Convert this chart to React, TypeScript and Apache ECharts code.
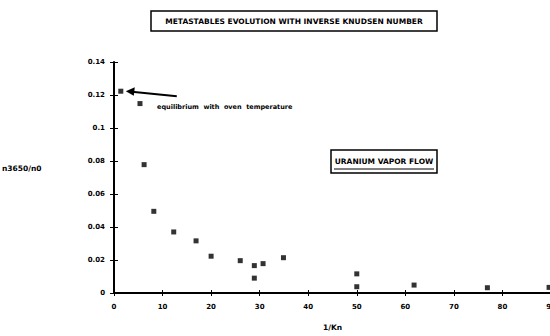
import React, { useEffect, useRef } from "react";
import * as echarts from "echarts";

const invKn = [1.4, 5.35, 6.2, 8.2, 12.3, 16.9, 20.0, 26.0, 28.9, 28.9, 30.7, 34.9, 50, 50, 61.8, 76.9, 89.6];
const ratio = [0.1223, 0.1148, 0.0778, 0.0495, 0.037, 0.0316, 0.0223, 0.0196, 0.0166, 0.009, 0.0178, 0.0214, 0.0116, 0.0038, 0.0048, 0.0032, 0.0034];
const titleText = "METASTABLES EVOLUTION WITH INVERSE KNUDSEN NUMBER";
const boxText = "URANIUM VAPOR FLOW";
const noteText = "equilibrium  with  oven  temperature";
const yName = "n3650/n0";
const xName = "1/Kn";

const FONT = "DejaVu Sans";

export default function App() {
  const ref = useRef<HTMLDivElement>(null);
  useEffect(() => {
    const chart = echarts.init(ref.current!, null, { renderer: "svg" });
    const data = invKn.map((x, i) => [x, ratio[i]]);
    const labelStyle = { fontFamily: FONT, fontWeight: "bold" as const, fontSize: 7, color: "#000" };
    chart.setOption({
      animation: false,
      backgroundColor: "#fff",
      grid: { left: 114, width: 437, top: 62, height: 233, containLabel: false },
      xAxis: [
        {
          type: "value", min: 0, max: 90, interval: 10,
          axisLine: { show: true, lineStyle: { color: "#000", width: 2 } },
          axisTick: { show: true, length: 3, lineStyle: { color: "#000", width: 1 } },
          splitLine: { show: false },
          axisLabel: { ...labelStyle, margin: 10 },
          name: xName, nameLocation: "middle", nameGap: 30,
          nameTextStyle: { ...labelStyle, fontSize: 7.5 },
        },
        {
          type: "value", min: 0, max: 90, interval: 10, position: "bottom",
          axisLine: { show: false },
          axisTick: { show: true, inside: true, length: 3, lineStyle: { color: "#000", width: 1 } },
          axisLabel: { show: false }, splitLine: { show: false },
        },
      ],
      yAxis: [
        {
          type: "value", min: 0, max: 0.14, interval: 0.02,
          axisLine: { show: true, lineStyle: { color: "#000", width: 2 } },
          axisTick: { show: true, length: 4, lineStyle: { color: "#000", width: 1 } },
          splitLine: { show: false },
          axisLabel: {
            ...labelStyle, margin: 9,
            formatter: (v: number) => (v === 0 ? "0" : String(+v.toFixed(2))),
          },
        },
        {
          type: "value", min: 0, max: 0.14, interval: 0.02, position: "left",
          axisLine: { show: false },
          axisTick: { show: true, inside: true, length: 4, lineStyle: { color: "#000", width: 1 } },
          axisLabel: { show: false }, splitLine: { show: false },
        },
      ],
      series: [
        {
          type: "scatter", data, symbol: "rect", symbolSize: 5,
          itemStyle: { color: "#000" }, clip: false,
        },
      ],
    });
    const p = chart.convertToPixel({ seriesIndex: 0 }, data[0]) as number[];
    const ax = p[0] + 5, ay = p[1];
    chart.setOption({
      graphic: [
        { type: "rect", shape: { x: 151, y: 11, width: 286, height: 20 }, style: { fill: "none", stroke: "#000", lineWidth: 1.5 } },
        { type: "text", x: 294, y: 21, style: { text: titleText, fontFamily: FONT, fontWeight: "bold", fontSize: 7.5, fill: "#000", align: "center", verticalAlign: "middle" } },
        { type: "rect", shape: { x: 331, y: 150, width: 106, height: 23 }, style: { fill: "none", stroke: "#000", lineWidth: 1.5 } },
        { type: "line", shape: { x1: 334, y1: 169, x2: 434, y2: 169 }, style: { stroke: "#000", lineWidth: 1 } },
        { type: "text", x: 384, y: 161, style: { text: boxText, fontFamily: FONT, fontWeight: "bold", fontSize: 7.5, fill: "#000", align: "center", verticalAlign: "middle" } },
        { type: "text", x: 157, y: 107, style: { text: noteText, fontFamily: FONT, fontWeight: "bold", fontSize: 6.5, fill: "#000", align: "left", verticalAlign: "middle" } },
        { type: "line", shape: { x1: ax + 6, y1: ay + 0.6, x2: ax + 51, y2: ay + 5 }, style: { stroke: "#000", lineWidth: 2 } },
        { type: "polygon", shape: { points: [[ax, ay], [ax + 9, ay - 4], [ax + 8, ay + 4.5]] }, style: { fill: "#000" } },
        { type: "text", x: 2, y: 168, style: { text: yName, fontFamily: FONT, fontWeight: "bold", fontSize: 7.5, fill: "#000", align: "left", verticalAlign: "middle" } },
      ],
    });
    return () => chart.dispose();
  }, []);
  return (
    <div style={{ position: "fixed", left: 0, top: 0, width: 550, height: 336, overflow: "hidden", background: "#fff" }}>
      <div ref={ref} style={{ width: 570, height: 336 }} />
    </div>
  );
}
